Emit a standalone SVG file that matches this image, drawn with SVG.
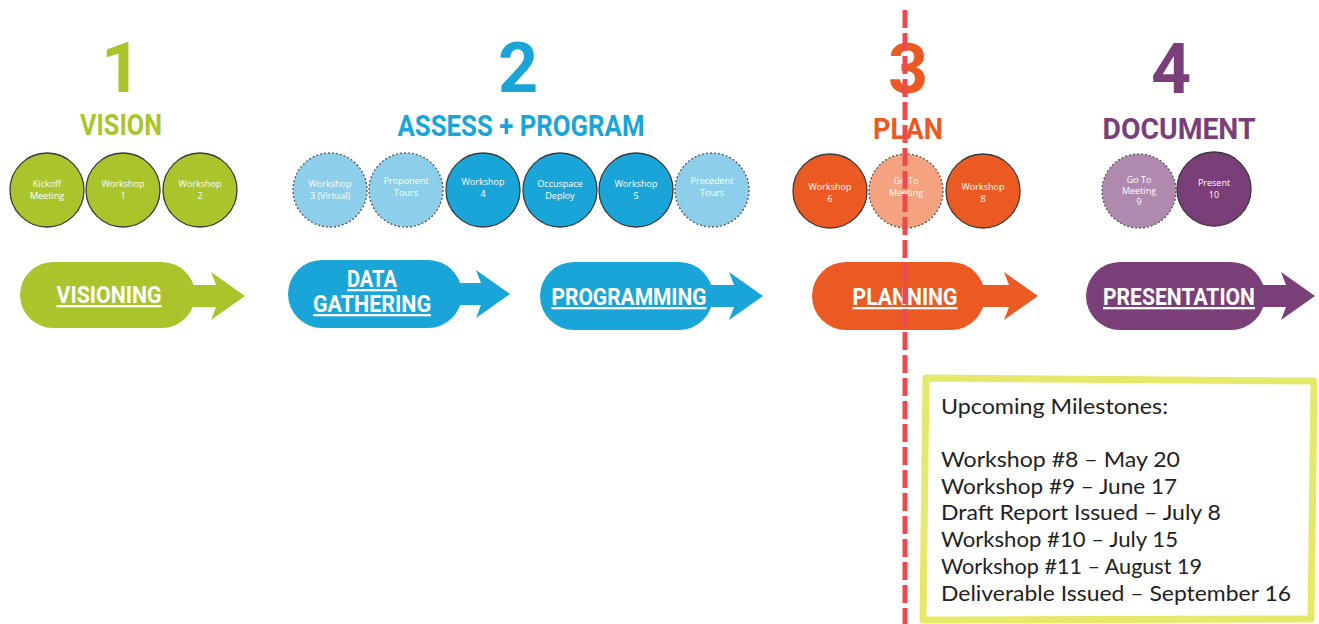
<svg xmlns="http://www.w3.org/2000/svg" width="1319" height="624" viewBox="0 0 1319 624">
<defs>
<style>
.num{font-family:"Roboto","Liberation Sans",sans-serif;font-weight:700;font-size:70px;text-anchor:middle}
.hd{font-family:"Roboto","Liberation Sans",sans-serif;font-weight:700;font-size:29px;text-anchor:middle}
.ct{font-family:"Open Sans","Noto Sans",sans-serif;font-size:9px;fill:#fff;text-anchor:middle}
.pt{font-family:"Roboto","Liberation Sans",sans-serif;font-weight:700;font-size:23px;fill:#fff;text-anchor:middle;text-decoration:underline}
.solid{stroke:#3a3a3a;stroke-width:1.3}
.dash{stroke:#555;stroke-width:1.3;stroke-dasharray:2 2}
.ms{font-family:"Lato","Noto Sans",sans-serif;font-size:22px;fill:#222}
</style>
<filter id="sh" x="-5" y="-0.1" width="11" height="1.2"><feGaussianBlur stdDeviation="1.2"/></filter>
</defs>
<rect width="1319" height="624" fill="#fff"/>

<g id="phase1">
<text class="num" x="121" y="92" fill="#a9c52b">1</text>
<text class="hd" x="121" y="135" fill="#a9c52b" textLength="82" lengthAdjust="spacingAndGlyphs">VISION</text>
</g>
<g id="phase2">
<text class="num" x="518" y="92" fill="#1aa5d8">2</text>
<text class="hd" x="521" y="136" fill="#1aa5d8" textLength="247" lengthAdjust="spacingAndGlyphs">ASSESS + PROGRAM</text>
</g>
<g id="phase3">
<text class="num" x="908" y="93" fill="#ec5a24">3</text>
<text class="hd" x="908" y="139" fill="#ec5a24" textLength="70" lengthAdjust="spacingAndGlyphs">PLAN</text>
</g>
<g id="phase4">
<text class="num" x="1171" y="93" fill="#7a3f78">4</text>
<text class="hd" x="1179" y="139" fill="#7a3f78" textLength="153" lengthAdjust="spacingAndGlyphs">DOCUMENT</text>
</g>

<g id="c-kickoff"><circle cx="47" cy="190" r="37" fill="#a9c52b" class="solid"/><text class="ct" x="47" y="187">Kickoff</text><text class="ct" x="47" y="199">Meeting</text></g>
<g id="c-ws1"><circle cx="123" cy="190" r="37" fill="#a9c52b" class="solid"/><text class="ct" x="123" y="187">Workshop</text><text class="ct" x="123" y="199">1</text></g>
<g id="c-ws2"><circle cx="200" cy="190" r="37" fill="#a9c52b" class="solid"/><text class="ct" x="200" y="187">Workshop</text><text class="ct" x="200" y="199">2</text></g>

<g id="c-ws3"><circle cx="330" cy="190" r="37" fill="#8dcfea" class="dash"/><text class="ct" x="330" y="187">Workshop</text><text class="ct" x="330" y="199">3 (Virtual)</text></g>
<g id="c-tours1"><circle cx="406" cy="190" r="37" fill="#8dcfea" class="dash"/><text class="ct" x="406" y="184">Proponent</text><text class="ct" x="406" y="196">Tours</text></g>
<g id="c-ws4"><circle cx="483" cy="190" r="37" fill="#1aa5d8" class="solid"/><text class="ct" x="483" y="185">Workshop</text><text class="ct" x="483" y="197">4</text></g>
<g id="c-occ"><circle cx="560" cy="190" r="37" fill="#1aa5d8" class="solid"/><text class="ct" x="560" y="187">Occuspace</text><text class="ct" x="560" y="199">Deploy</text></g>
<g id="c-ws5"><circle cx="636" cy="190" r="37" fill="#1aa5d8" class="solid"/><text class="ct" x="636" y="187">Workshop</text><text class="ct" x="636" y="199">5</text></g>
<g id="c-tours2"><circle cx="712" cy="190" r="37" fill="#8dcfea" class="dash"/><text class="ct" x="712" y="184">Precedent</text><text class="ct" x="712" y="196">Tours</text></g>

<g id="c-ws6"><circle cx="830" cy="191" r="37" fill="#ec5a24" class="solid"/><text class="ct" x="830" y="190">Workshop</text><text class="ct" x="830" y="202">6</text></g>
<g id="c-goto7"><circle cx="906" cy="191" r="37" fill="#f4a27f" class="dash"/><text class="ct" x="906" y="184">Go To</text><text class="ct" x="906" y="196">Meeting</text></g>
<g id="c-ws8"><circle cx="983" cy="191" r="37" fill="#ec5a24" class="solid"/><text class="ct" x="983" y="190">Workshop</text><text class="ct" x="983" y="202">8</text></g>

<g id="c-goto9"><circle cx="1139" cy="191" r="37" fill="#b08aae" class="dash"/><text class="ct" x="1139" y="183">Go To</text><text class="ct" x="1139" y="194">Meeting</text><text class="ct" x="1139" y="205">9</text></g>
<g id="c-present"><circle cx="1214" cy="189" r="37" fill="#7a3f78" class="solid"/><text class="ct" x="1214" y="186">Present</text><text class="ct" x="1214" y="198">10</text></g>

<g id="p-visioning" fill="#a9c52b">
<rect x="20" y="262" width="175" height="66" rx="33"/>
<path d="M185,285 H216 L211,272 L245,296 L211,320 L216,307 H185 Z"/>
<text class="pt" x="109" y="303" textLength="105" lengthAdjust="spacingAndGlyphs">VISIONING</text>
</g>
<g id="p-data" fill="#1aa5d8">
<rect x="288" y="260" width="174" height="68" rx="34"/>
<path d="M452,283 H481 L476,270 L510,294 L476,318 L481,305 H452 Z"/>
<text class="pt" x="372" y="287" textLength="50" lengthAdjust="spacingAndGlyphs">DATA</text>
<text class="pt" x="372" y="312" textLength="118" lengthAdjust="spacingAndGlyphs">GATHERING</text>
</g>
<g id="p-programming" fill="#1aa5d8">
<rect x="540" y="262" width="173" height="68" rx="34"/>
<path d="M703,285 H734 L729,272 L763,296 L729,320 L734,307 H703 Z"/>
<text class="pt" x="629" y="305" textLength="155" lengthAdjust="spacingAndGlyphs">PROGRAMMING</text>
</g>
<g id="p-planning" fill="#ec5a24">
<rect x="812" y="262" width="173" height="68" rx="34"/>
<path d="M975,285 H1009 L1004,272 L1038,296 L1004,320 L1009,307 H975 Z"/>
<text class="pt" x="905" y="305" textLength="105" lengthAdjust="spacingAndGlyphs">PLANNING</text>
</g>
<g id="p-presentation" fill="#7a3f78">
<rect x="1086" y="262" width="179" height="68" rx="34"/>
<path d="M1255,285 H1286 L1281,272 L1315,296 L1281,320 L1286,307 H1255 Z"/>
<text class="pt" x="1179" y="305" textLength="152" lengthAdjust="spacingAndGlyphs">PRESENTATION</text>
</g>

<g id="connectors">
<line x1="909" y1="10" x2="909" y2="624" stroke="#777" stroke-width="5" stroke-dasharray="18 5" filter="url(#sh)"/>
<line x1="905" y1="10" x2="905" y2="624" stroke="#ef4950" stroke-width="5" stroke-dasharray="18 5"/>
</g>

<g id="milestones">
<path d="M926,378 L1314,381 L1311,619 L923,620 Z" fill="none" stroke="#e5e86a" stroke-width="7" stroke-linejoin="round"/>
<text class="ms" x="941" y="414" textLength="227" lengthAdjust="spacingAndGlyphs">Upcoming Milestones:</text>
<text class="ms" x="941" y="467" textLength="239" lengthAdjust="spacingAndGlyphs">Workshop #8 – May 20</text>
<text class="ms" x="941" y="494" textLength="236" lengthAdjust="spacingAndGlyphs">Workshop #9 – June 17</text>
<text class="ms" x="941" y="520" textLength="280" lengthAdjust="spacingAndGlyphs">Draft Report Issued – July 8</text>
<text class="ms" x="941" y="547" textLength="237" lengthAdjust="spacingAndGlyphs">Workshop #10 – July 15</text>
<text class="ms" x="941" y="574" textLength="261" lengthAdjust="spacingAndGlyphs">Workshop #11 – August 19</text>
<text class="ms" x="941" y="601" textLength="350" lengthAdjust="spacingAndGlyphs">Deliverable Issued – September 16</text>
</g>
</svg>
